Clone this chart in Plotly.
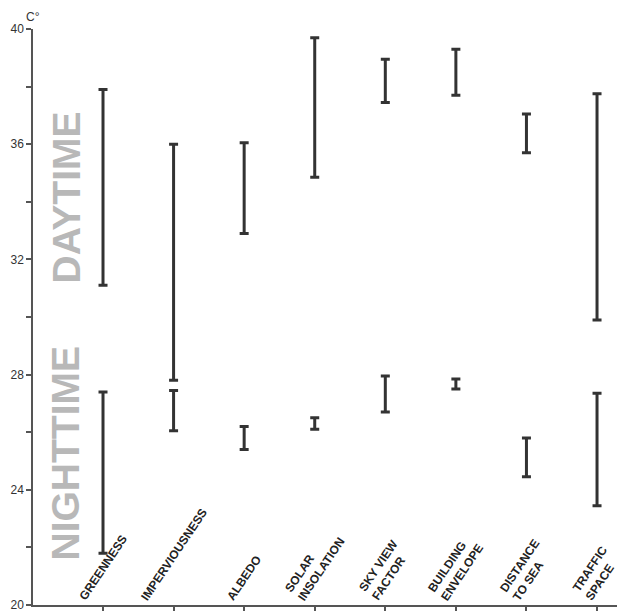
import plotly.graph_objects as go

# Temperature ranges (°C) per urban factor, daytime and nighttime
categories = ["GREENNESS", "IMPERVIOUSNESS", "ALBEDO", "SOLAR<br>INSOLATION",
              "SKY VIEW<br>FACTOR", "BUILDING<br>ENVELOPE", "DISTANCE<br>TO SEA",
              "TRAFFIC<br>SPACE"]
day_low = [31.1, 27.8, 32.9, 34.85, 37.45, 37.7, 35.7, 29.9]
day_high = [37.9, 36.0, 36.05, 39.7, 38.95, 39.3, 37.05, 37.75]
night_low = [21.8, 26.05, 25.4, 26.1, 26.7, 27.5, 24.45, 23.45]
night_high = [27.4, 27.45, 26.2, 26.5, 27.95, 27.85, 25.8, 27.35]
y_ticks = [20, 24, 28, 32, 36, 40]

FONT = "Liberation Sans, Arial, sans-serif"
BAR = "#333333"


def range_trace(lo, hi):
    mid = [(a + b) / 2 for a, b in zip(lo, hi)]
    half = [(b - a) / 2 for a, b in zip(lo, hi)]
    return go.Scatter(
        x=categories, y=mid, mode="markers",
        marker=dict(size=1, color="rgba(0,0,0,0)"),
        error_y=dict(type="data", array=half, symmetric=True,
                     color=BAR, thickness=3, width=4.5),
        showlegend=False, hoverinfo="skip",
    )


fig = go.Figure()
fig.add_trace(range_trace(day_low, day_high))
fig.add_trace(range_trace(night_low, night_high))

annotations = []
for c in categories:
    annotations.append(dict(
        x=c, y=20, xref="x", yref="y", text=c, showarrow=False,
        textangle=-56, xanchor="center", yanchor="bottom", yshift=-1,
        align="left",
        font=dict(family=FONT, size=12, color="#222222", weight="bold"),
    ))

annotations += [
    dict(x=0, y=1, xref="paper", yref="paper", text="C°", showarrow=False,
         xanchor="center", yanchor="bottom", yshift=3,
         font=dict(family=FONT, size=12, color="#333333")),
    dict(x=0.0565, y=0.7076, xref="paper", yref="paper", text="<b>DAYTIME</b>",
         showarrow=False, textangle=-90, xanchor="center", yanchor="middle",
         font=dict(family=FONT, size=39, color="#b8b8b8")),
    dict(x=0.0565, y=0.263, xref="paper", yref="paper", text="<b>NIGHTTIME</b>",
         showarrow=False, textangle=-90, xanchor="center", yanchor="middle",
         font=dict(family=FONT, size=39, color="#b8b8b8")),
]

fig.update_layout(
    width=617, height=612,
    margin=dict(l=33, r=0, t=29, b=5),
    paper_bgcolor="white", plot_bgcolor="white",
    annotations=annotations,
    xaxis=dict(
        type="category", range=[-0.992, 7.283],
        showgrid=False, zeroline=False, showticklabels=False,
        showline=True, linecolor="#555555", linewidth=1.5,
        ticks="outside", ticklen=4, tickcolor="#555555", tickwidth=1.5,
    ),
    yaxis=dict(
        range=[20, 40], tickvals=y_ticks, showgrid=False, zeroline=False,
        showline=True, linecolor="#555555", linewidth=1.5,
        ticks="outside", ticklen=5, tickcolor="#555555", tickwidth=1.5,
        ticklabeloverflow="allow",
        tickfont=dict(family=FONT, size=12, color="#333333"),
        minor=dict(dtick=2, ticks="outside", ticklen=5, tickcolor="#555555",
                   tickwidth=1.5, showgrid=False),
    ),
)

fig.write_html("out.html")
